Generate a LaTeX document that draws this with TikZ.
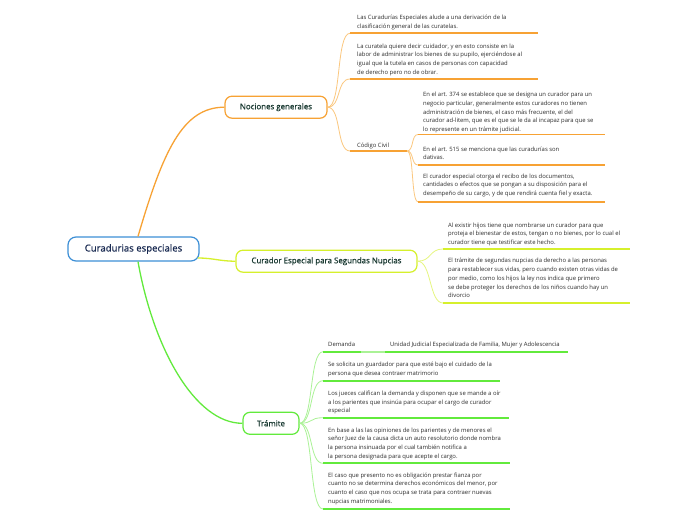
\documentclass[tikz,border=0pt]{standalone}
\usepackage{fontspec}
\setmainfont{Open Sans}
\newfontfamily\headfont[FakeBold=0.7]{Open Sans}
\definecolor{orng}{HTML}{F7A234}
\definecolor{orngl}{HTML}{FBC77E}
\definecolor{ylw}{HTML}{D6F02C}
\definecolor{ylwl}{HTML}{E6F680}
\definecolor{grn}{HTML}{62EA3C}
\definecolor{grnl}{HTML}{AAF296}
\definecolor{blu}{HTML}{3D8FD6}
\definecolor{headtxt}{HTML}{1B3B33}
\definecolor{roottxt}{HTML}{1A2B52}
\definecolor{leaftxt}{HTML}{2E2E2E}
\tikzset{
  rootbox/.style={draw=blu, line width=1.2pt, rounded corners=8pt, fill=white,
    minimum width=131pt, minimum height=24pt, inner sep=0pt,
    font=\headfont\fontsize{9.6}{11}\selectfont, text=roottxt},
  mainbox/.style={draw=#1, line width=1.2pt, rounded corners=7pt, fill=white,
    minimum height=22pt, inner sep=0pt,
    font=\headfont\fontsize{7.9}{9}\selectfont, text=headtxt},
  leaf/.style={anchor=north west, align=left, inner sep=0pt,
    font=\fontsize{5.9}{8.7}\selectfont, text=leaftxt},
  ul/.style={line width=1.7pt, draw=#1},
  conn/.style={line width=0.8pt, draw=#1},
  trunk/.style={line width=1.3pt, draw=#1},
}
\newcommand{\fl}{\rule{0pt}{4.8pt}}
\begin{document}
\begin{tikzpicture}[x=1pt,y=-1pt]
\useasboundingbox[fill=white] (0,0) rectangle (696,520);

% main nodes
\node[rootbox] (root) at (133.5,249) {Curadurias especiales};
\node[mainbox=orng, minimum width=102pt] (nog) at (276,107.2) {Nociones generales};
\node[mainbox=ylw, minimum width=181pt] (cur) at (326.5,261.2) {Curador Especial para Segundas Nupcias};
\node[mainbox=grn, minimum width=56pt] (tra) at (271,423.3) {Trámite};

% trunk connectors
\draw[trunk=orng] ([xshift=4.5pt]root.north) .. controls +(25,-85) and +(-42,0) .. (nog.west);
\draw[trunk=ylw] ([shift={(-2pt,-9pt)}]root.east) .. controls +(16,0) and +(-16,0) .. (cur.west);
\draw[trunk=grn] ([xshift=4.5pt]root.south) .. controls +(15,85) and +(-48,0) .. (tra.west);

% ---------- Nociones generales ----------
\node[leaf] (n1) at (357,14.5) {\fl Las Curadurías Especiales alude a una derivación de la\\clasificación general de las curatelas.};
\node[leaf] (n2) at (357,43.2) {\fl La curatela quiere decir cuidador, y en esto consiste en la\\labor de administrar los bienes de su pupilo, ejerciéndose al\\igual que la tutela en casos de personas con capacidad\\de derecho pero no de obrar.};
\node[leaf] (cc) at (357,142.2) {\fl Código Civil};
\coordinate (n1s) at (350,33.3); \coordinate (n1e) at (538,33.3);
\coordinate (n2s) at (350,79);   \coordinate (n2e) at (538,79);
\coordinate (ccs) at (350,151);  \coordinate (cce) at (407,151);
\draw[conn=orngl] (nog.east) .. controls +(14,0) and +(-14,0) .. (n1s);
\draw[conn=orngl] (nog.east) .. controls +(14,0) and +(-14,0) .. (n2s);
\draw[conn=orngl] (nog.east) .. controls +(14,0) and +(-14,0) .. (ccs);
\draw[ul=orng] (n1s) -- (n1e);
\draw[ul=orng] (n2s) -- (n2e);
\draw[ul=orng] (ccs) -- (cce);

\node[leaf] (c1) at (423,91.7) {\fl En el art. 374 se establece que se designa un curador para un\\negocio particular, generalmente estos curadores no tienen\\administración de bienes, el caso más frecuente, el del\\curador ad-litem, que es el que se le da al incapaz para que se\\lo represente en un trámite judicial.};
\node[leaf] (c2) at (423,146.2) {\fl En el art. 515 se menciona que las curadurías son\\dativas.};
\node[leaf] (c3) at (423,173.2) {\fl El curador especial otorga el recibo de los documentos,\\cantidades o efectos que se pongan a su disposición para el\\desempeño de su cargo, y de que rendirá cuenta fiel y exacta.};
\coordinate (c1s) at (418,134.5); \coordinate (c1e) at (605,134.5);
\coordinate (c2s) at (418,165);   \coordinate (c2e) at (605,165);
\coordinate (c3s) at (418,201.7); \coordinate (c3e) at (605,201.7);
\draw[conn=orngl] (cce) .. controls +(7,0) and +(-7,0) .. (c1s);
\draw[conn=orngl] (cce) .. controls +(7,0) and +(-7,0) .. (c2s);
\draw[conn=orngl] (cce) .. controls +(7,0) and +(-7,0) .. (c3s);
\draw[ul=orng] (c1s) -- (c1e);
\draw[ul=orng] (c2s) -- (c2e);
\draw[ul=orng] (c3s) -- (c3e);

% ---------- Curador Especial ----------
\node[leaf] (s1) at (448,222.2) {\fl Al existir hijos tiene que nombrarse un curador para que\\proteja el bienestar de estos, tengan o no bienes, por lo cual el\\curador tiene que testificar este hecho.};
\node[leaf] (s2) at (448,257.9) {\fl El trámite de segundas nupcias da derecho a las personas\\para restablecer sus vidas, pero cuando existen otras vidas de\\por medio, como los hijos la ley nos indica que primero\\se debe proteger los derechos de los niños cuando hay un\\divorcio};
\coordinate (s1s) at (443,249); \coordinate (s1e) at (630,249);
\coordinate (s2s) at (443,303); \coordinate (s2e) at (630,303);
\draw[conn=ylwl] (cur.east) .. controls +(14,0) and +(-14,0) .. (s1s);
\draw[conn=ylwl] (cur.east) .. controls +(14,0) and +(-14,0) .. (s2s);
\draw[ul=ylw] (s1s) -- (s1e);
\draw[ul=ylw] (s2s) -- (s2e);

% ---------- Trámite ----------
\node[leaf] (dem) at (328,341.2) {\fl Demanda};
\node[leaf] (uni) at (390,341.2) {\fl Unidad Judicial Especializada de Familia, Mujer y Adolescencia};
\node[leaf] (t1) at (328,361.5) {\fl Se solicita un guardador para que esté bajo el cuidado de la\\persona que desea contraer matrimorio};
\node[leaf] (t2) at (328,390.5) {\fl Los jueces califican la demanda y disponen que se mande a oír\\a los parientes que insinúa para ocupar el cargo de curador\\especial};
\node[leaf] (t3) at (328,427.2) {\fl En base a las las opiniones de los parientes y de menores el\\señor Juez de la causa dicta un auto resolutorio donde nombra\\la persona insinuada por el cual también notifica a\\la persona designada para que acepte el cargo.};
\node[leaf] (t4) at (328,472.2) {\fl El caso que presento no es obligación prestar fianza por\\cuanto no se determina derechos económicos del menor, por\\cuanto el caso que nos ocupa se trata para contraer nuevas\\nupcias matrimoniales.};
\coordinate (ds) at (323,351.7); \coordinate (de) at (361,351.7);
\coordinate (us) at (385,351.7); \coordinate (ue) at (568,351.7);
\coordinate (t1s) at (323,380.7); \coordinate (t1e) at (500,380.7);
\coordinate (t2s) at (323,417.7); \coordinate (t2e) at (509,417.7);
\coordinate (t3s) at (323,463.3); \coordinate (t3e) at (510,463.3);
\coordinate (t4s) at (323,509);   \coordinate (t4e) at (510,509);
\draw[conn=grnl] (tra.east) .. controls +(14,0) and +(-14,0) .. (ds);
\draw[conn=grnl] (tra.east) .. controls +(14,0) and +(-14,0) .. (t1s);
\draw[conn=grnl] (tra.east) .. controls +(14,0) and +(-14,0) .. (t2s);
\draw[conn=grnl] (tra.east) .. controls +(14,0) and +(-14,0) .. (t3s);
\draw[conn=grnl] (tra.east) .. controls +(14,0) and +(-14,0) .. (t4s);
\draw[ul=grn] (ds) -- (de);
\draw[line width=1.7pt, grnl] (de) -- (us);
\draw[ul=grn] (us) -- (ue);
\draw[ul=grn] (t1s) -- (t1e);
\draw[ul=grn] (t2s) -- (t2e);
\draw[ul=grn] (t3s) -- (t3e);
\draw[ul=grn] (t4s) -- (t4e);
\end{tikzpicture}
\end{document}
